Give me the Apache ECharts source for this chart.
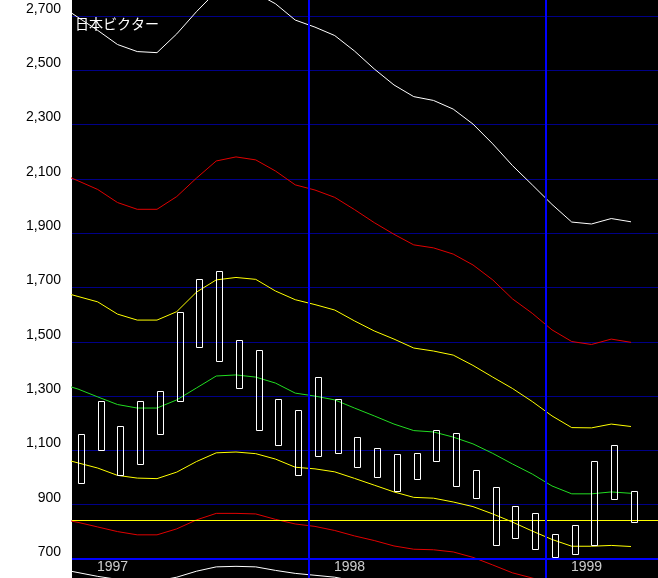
<!DOCTYPE html>
<html><head><meta charset="utf-8">
<script src="https://cdn.jsdelivr.net/npm/echarts@6/dist/echarts.min.js"></script>
<style>html,body{margin:0;padding:0;background:#fff}#chart{width:658px;height:578px}</style>
</head><body><div id="chart"></div>
<script>
const chartTitle = '日本ビクター';
const monthLabels = ['1997-01','1997-02','1997-03','1997-04','1997-05','1997-06','1997-07','1997-08','1997-09','1997-10','1997-11','1997-12',
  '1998-01','1998-02','1998-03','1998-04','1998-05','1998-06','1998-07','1998-08','1998-09','1998-10','1998-11','1998-12',
  '1999-01','1999-02','1999-03','1999-04','1999-05'];
const bodyHigh = [1160,1282,1190,1282,1319,1610,1731,1761,1507,1470,1289,1249,1370,1289,1149,1109,1087,1091,1175,1164,1028,965,895,870,792,825,1061,1120,951];
const bodyLow  = [980,1102,1010,1050,1160,1282,1481,1429,1330,1175,1120,1010,1079,1091,1039,1002,951,995,1061,969,925,752,777,737,708,719,752,921,836];

const bandLabels = ['1996-12'].concat(monthLabels);
const bandMiddle = [1348,1326,1297,1269,1256,1256,1286,1330,1374,1378,1370,1348,1311,1300,1286,1256,1227,1197,1173,1168,1149,1124,1089,1050,1013,969,940,940,947,942];
const bandUpper1 = [1687,1667,1647,1602,1580,1580,1611,1683,1728,1737,1730,1687,1655,1637,1617,1577,1540,1510,1477,1466,1451,1413,1370,1328,1280,1227,1184,1183,1197,1188];
const bandLower1 = [1073,1054,1035,1008,998,996,1020,1059,1091,1094,1088,1068,1038,1032,1021,997,972,947,927,924,910,893,866,836,803,772,747,747,750,746];
const bandUpper2 = [2124,2093,2061,2013,1988,1988,2035,2103,2166,2181,2170,2129,2078,2059,2032,1987,1939,1896,1857,1846,1823,1783,1728,1658,1605,1544,1501,1490,1510,1498];
const bandLower2 = [849,835,818,801,789,789,811,844,868,868,866,846,829,820,805,785,768,748,736,734,726,706,678,649,630,609,591,591,596,592];
const bandUpper3 = [2744,2695,2647,2595,2569,2565,2634,2716,2790,2800,2785,2745,2685,2659,2628,2571,2505,2446,2403,2389,2357,2302,2229,2149,2078,2006,1941,1934,1954,1942];
const bandLower3 = [664,650,636,625,619,619,633,655,671,673,671,658,647,640,633,619,604,590,578,575,566,554,536,517,499,477,463,463,466,464];

const referencePrice = 843;
const baseValue = 700;
const yTickMin = 500, yTickMax = 2900, yTickStep = 200;

function monthIndex(l){ const p = l.split('-').map(Number); return (p[0]-1997)*12 + (p[1]-1); }
const yearStarts = monthLabels.filter(l => l.endsWith('-01'));
const mkBand = arr => arr.map((v,k) => [monthIndex(bandLabels[k]), v]);

const numFont = '"Liberation Sans", Arial, sans-serif';

const chart = echarts.init(document.getElementById('chart'), null, {renderer:'canvas'});
const lineSeries = (data, color) => ({
  type:'line', xAxisIndex:1, yAxisIndex:0, data: mkBand(data), symbol:'none', showSymbol:false,
  lineStyle:{color:color, width:1}, z:3, animation:false, clip:true, silent:true
});

chart.setOption({
  animation:false,
  backgroundColor:'#ffffff',
  title:{text:chartTitle, left:70, top:12, textStyle:{color:'#ffffff', fontSize:14, fontWeight:'normal', fontFamily:'"Noto Sans CJK JP", sans-serif'}},
  grid:{left:72, right:0, top:-38.3, bottom:-35.3, show:true, backgroundColor:'#000000', borderWidth:0, containLabel:false, outerBoundsMode:'none'},
  xAxis:[
    {type:'value', min:-0.48, max:29.19, show:false},
    {type:'value', min:-0.303, max:29.367, show:false}
  ],
  yAxis:{type:'value', min:yTickMin, max:yTickMax, interval:yTickStep,
    axisLine:{show:false}, axisTick:{show:false},
    splitLine:{show:true, lineStyle:{color:'#000088', width:1}},
    axisLabel:{margin:11, color:'#000000', fontSize:14, fontFamily:numFont, verticalAlign:'bottom',
      formatter: v => (v === yTickMin || v === yTickMax) ? '' : v.toLocaleString('en-US')}
  },
  series:[
    {
      type:'scatter', xAxisIndex:0, yAxisIndex:0, symbolSize:1, itemStyle:{color:'rgba(0,0,0,0)'}, z:1,
      data: yearStarts.map(l => ({value:[monthIndex(l), baseValue], name:l.slice(0,4)})),
      label:{show:true, formatter:p => p.name, position:'right', distance:15, offset:[0,8], color:'#ffffff', fontSize:14, fontFamily:numFont},
      markLine:{silent:true, symbol:['none','none'], label:{show:false}, animation:false,
        data:[
          {yAxis:referencePrice, lineStyle:{color:'#ffff00', width:1, type:'solid'}},
          {yAxis:baseValue, lineStyle:{color:'#0000ff', width:2, type:'solid'}}
        ].concat(yearStarts.filter(l => monthIndex(l) > 0).map(l => ({xAxis:monthIndex(l)-0.5, lineStyle:{color:'#0000ff', width:2, type:'solid'}})))
      }
    },
    lineSeries(bandUpper3, '#ffffff'),
    lineSeries(bandUpper2, '#e00000'),
    lineSeries(bandUpper1, '#ffff00'),
    lineSeries(bandMiddle, '#22dd22'),
    lineSeries(bandLower1, '#ffff00'),
    lineSeries(bandLower2, '#e00000'),
    lineSeries(bandLower3, '#ffffff'),
    {
      type:'custom', xAxisIndex:0, yAxisIndex:0, z:5, clip:true,
      data: monthLabels.map((l,k) => [monthIndex(l), bodyLow[k], bodyHigh[k]]),
      encode:{x:0, y:[1,2]},
      renderItem:(params, api) => {
        const x = api.value(0);
        const pt = api.coord([x, api.value(2)]);
        const pb = api.coord([x, api.value(1)]);
        const left = Math.floor(pt[0]) - 3;
        const top = Math.round(pt[1]), bot = Math.round(pb[1]);
        return {type:'rect', shape:{x:left+0.5, y:top+0.5, width:6, height:bot-top},
          style:{fill:'rgba(0,0,0,0)', stroke:'#ffffff', lineWidth:1}};
      }
    }
  ]
});
</script></body></html>
